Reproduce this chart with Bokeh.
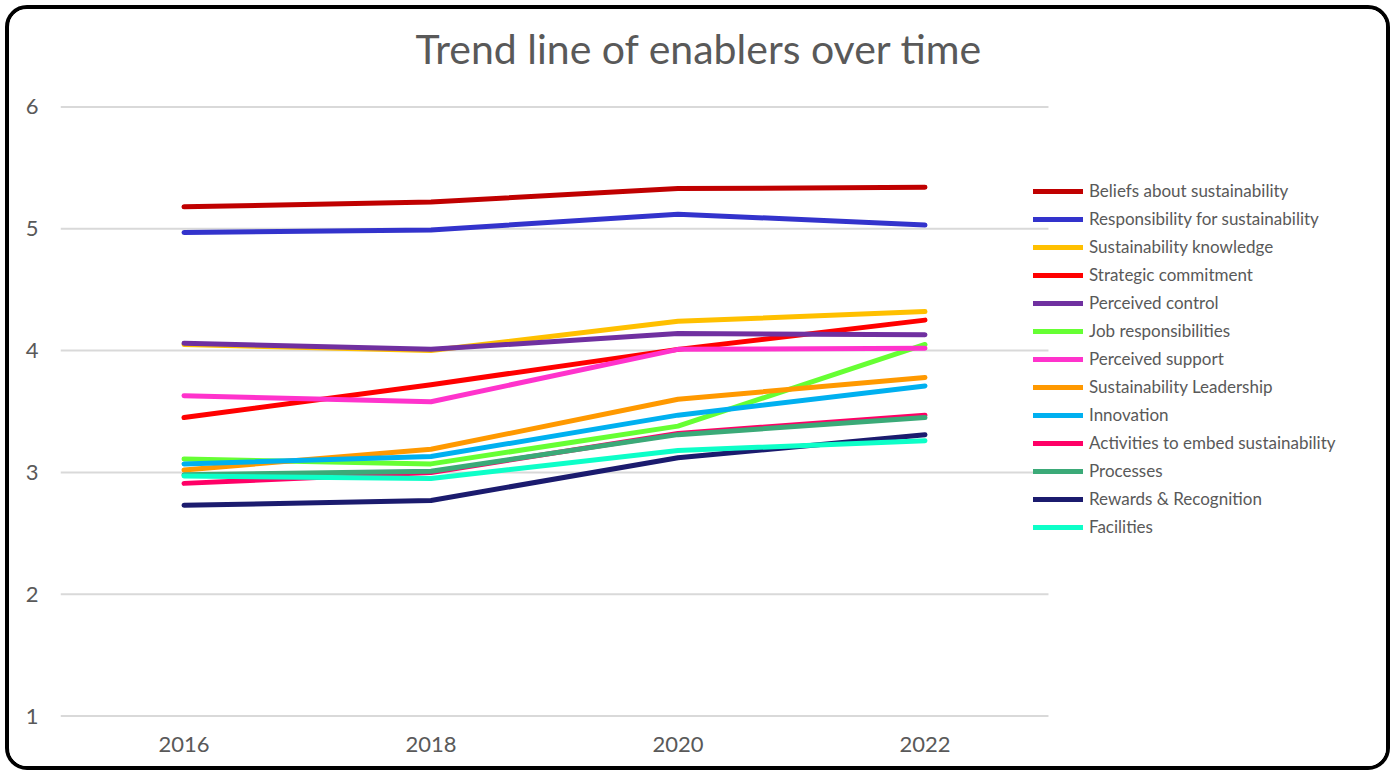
from bokeh.plotting import figure
from bokeh.models import (Legend, LegendItem, FixedTicker, Title, Range1d)
from bokeh.embed import file_html
from bokeh.resources import INLINE

years = ["2016", "2018", "2020", "2022"]

beliefs = [5.18, 5.22, 5.33, 5.34]
responsibility = [4.97, 4.99, 5.12, 5.03]
knowledge = [4.05, 4.00, 4.24, 4.32]
strategic = [3.45, 3.72, 4.01, 4.25]
control = [4.06, 4.01, 4.14, 4.13]
job = [3.11, 3.07, 3.38, 4.05]
support = [3.63, 3.58, 4.01, 4.02]
leadership = [3.02, 3.19, 3.60, 3.78]
innovation = [3.07, 3.13, 3.47, 3.71]
activities = [2.91, 3.00, 3.32, 3.47]
processes = [2.98, 3.01, 3.31, 3.45]
rewards = [2.73, 2.77, 3.12, 3.31]
facilities = [2.97, 2.95, 3.18, 3.26]

series_names = [
    "Beliefs about sustainability", "Responsibility for sustainability",
    "Sustainability knowledge", "Strategic commitment", "Perceived control",
    "Job responsibilities", "Perceived support", "Sustainability Leadership",
    "Innovation", "Activities to embed sustainability", "Processes",
    "Rewards & Recognition", "Facilities",
]
series_values = [beliefs, responsibility, knowledge, strategic, control, job,
                 support, leadership, innovation, activities, processes,
                 rewards, facilities]
series_colors = ["#C00000", "#3333CC", "#FFC000", "#FF0000", "#7030A0",
                 "#66FF33", "#FF33CC", "#FF9900", "#00B0F0", "#FF0066",
                 "#3BAA78", "#1B1B6E", "#0DFFC8"]

y_ticks = [1, 2, 3, 4, 5, 6]

FONT = "Lato"
GRAY = "#595959"

# category positions: centre of each category slot
xpos = [i + 0.5 for i in range(len(years))]
n_cat = len(years)

W, H = 1377, 757
p = figure(x_range=Range1d(0, 5.324), y_range=Range1d(0.98, 6.02),
           width=W, height=H,
           output_backend="svg", toolbar_location=None,
           min_border_left=51, min_border_right=19,
           min_border_top=95, min_border_bottom=56)
p.styles = {"border": "4px solid black", "border-radius": "22px",
            "margin": "5px 2px 2px 5px", "box-sizing": "content-box",
            "overflow": "hidden"}
p.outline_line_color = None
p.background_fill_color = "white"
p.border_fill_color = "white"

# small spacer between frame and title
spacer = Title(text=" ", text_font_size="1px", standoff=29)
p.add_layout(spacer, "above")
t = Title(text="Trend line of enablers over time", align="left", offset=355,
          text_font=FONT, text_font_size="41px", text_color=GRAY,
          text_font_style="normal", standoff=0)
p.add_layout(t, "above")

p.xgrid.grid_line_color = None
p.ygrid.grid_line_color = None
# horizontal gridlines across the category area only
p.segment(x0=[0] * len(y_ticks), x1=[n_cat] * len(y_ticks), y0=y_ticks,
          y1=y_ticks, line_color="#D9D9D9", line_width=2)

p.yaxis.ticker = FixedTicker(ticks=y_ticks)
p.xaxis.ticker = FixedTicker(ticks=xpos)
p.xaxis.major_label_overrides = {x: y for x, y in zip(xpos, years)}

for ax in (p.xaxis[0], p.yaxis[0]):
    ax.axis_line_color = None
    ax.major_tick_line_color = None
    ax.minor_tick_line_color = None
    ax.major_label_text_font = FONT
    ax.major_label_text_font_size = "22px"
    ax.major_label_text_color = GRAY
p.yaxis.major_label_standoff = 16
p.xaxis.major_label_standoff = 12

items = []
for name, vals, col in zip(series_names, series_values, series_colors):
    r = p.line(xpos, vals, line_color=col, line_width=5,
               line_cap="round", line_join="round")
    items.append(LegendItem(label=name, renderers=[r]))

legend = Legend(items=items, location=(973, 181),
                label_text_font=FONT, label_text_font_size="17px",
                label_text_color=GRAY, glyph_width=50, glyph_height=20,
                label_height=20, spacing=7, label_standoff=6, padding=0,
                margin=0, border_line_color=None, background_fill_alpha=0)
p.add_layout(legend, "center")

open("out.html", "w").write(file_html(p, INLINE))
